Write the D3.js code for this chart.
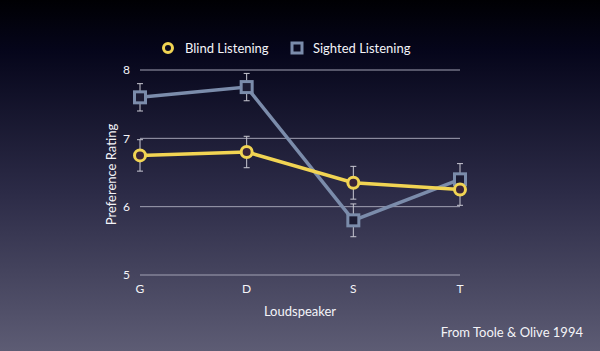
<!DOCTYPE html>
<html>
<head>
<meta charset="utf-8">
<script src="https://cdn.jsdelivr.net/npm/d3@7"></script>
<style>
  html, body { margin: 0; padding: 0; background: #000; }
  svg { display: block; }
  text { font-family: "Lato", "Open Sans", sans-serif; fill: #f4f4f8; }
</style>
</head>
<body>
<div id="chart"></div>
<script>
const speakers = ["G", "D", "S", "T"];
const blindValues = [6.75, 6.8, 6.35, 6.25];
const blindErrors = [0.23, 0.23, 0.24, 0.23];
const sightedValues = [7.6, 7.75, 5.8, 6.4];
const sightedErrors = [0.2, 0.2, 0.24, 0.23];
const yTicks = [5, 6, 7, 8];

const width = 600, height = 351;
const margin = {top: 70, right: 140, bottom: 76, left: 140};

const svg = d3.select("#chart").append("svg")
    .attr("width", width)
    .attr("height", height);

// background gradient
const grad = svg.append("defs").append("linearGradient")
    .attr("id", "bg").attr("x1", 0).attr("y1", 0).attr("x2", 0).attr("y2", 1);
grad.append("stop").attr("offset", "0%").attr("stop-color", "#000003");
grad.append("stop").attr("offset", "14%").attr("stop-color", "#05051a");
grad.append("stop").attr("offset", "55%").attr("stop-color", "#2c2b47");
grad.append("stop").attr("offset", "100%").attr("stop-color", "#5d5c74");
svg.append("rect").attr("width", width).attr("height", height).attr("fill", "url(#bg)");

const x = d3.scalePoint()
    .domain(speakers)
    .range([margin.left, width - margin.right]);

const y = d3.scaleLinear()
    .domain([5, 8])
    .range([height - margin.bottom, margin.top]);

// gridlines
svg.append("g")
    .selectAll("line")
    .data(yTicks)
    .join("line")
    .attr("x1", margin.left)
    .attr("x2", width - margin.right)
    .attr("y1", d => y(d))
    .attr("y2", d => y(d))
    .attr("stroke", "#a2a2b4")
    .attr("stroke-width", 1);

// y tick labels
svg.append("g")
    .selectAll("text")
    .data(yTicks)
    .join("text")
    .attr("x", margin.left - 10)
    .attr("y", d => y(d))
    .attr("dy", "0.35em")
    .attr("text-anchor", "end")
    .attr("font-size", 12)
    .text(d => d);

// x tick labels
svg.append("g")
    .selectAll("text")
    .data(speakers)
    .join("text")
    .attr("x", d => x(d))
    .attr("y", y(5) + 18)
    .attr("text-anchor", "middle")
    .attr("font-size", 12)
    .text(d => d);

// axis labels
svg.append("text")
    .attr("x", (margin.left + width - margin.right) / 2)
    .attr("y", 316)
    .attr("text-anchor", "middle")
    .attr("font-size", 13)
    .text("Loudspeaker");

svg.append("text")
    .attr("transform", `translate(116,${(y(5) + y(8)) / 2 + 2}) rotate(-90)`)
    .attr("text-anchor", "middle")
    .attr("font-size", 13)
    .text("Preference Rating");

svg.append("text")
    .attr("x", 583)
    .attr("y", 337)
    .attr("text-anchor", "end")
    .attr("font-size", 13)
    .text("From Toole & Olive 1994");

const blind = speakers.map((s, i) => ({s, v: blindValues[i], e: blindErrors[i]}));
const sighted = speakers.map((s, i) => ({s, v: sightedValues[i], e: sightedErrors[i]}));

const drawErrors = (data) => {
    const g = svg.append("g").attr("stroke", "#c8c8d2").attr("stroke-width", 1);
    g.selectAll("line.v").data(data).join("line")
        .attr("x1", d => x(d.s)).attr("x2", d => x(d.s))
        .attr("y1", d => y(d.v + d.e)).attr("y2", d => y(d.v - d.e));
    g.selectAll("line.t").data(data).join("line")
        .attr("x1", d => x(d.s) - 3).attr("x2", d => x(d.s) + 3)
        .attr("y1", d => y(d.v + d.e)).attr("y2", d => y(d.v + d.e));
    g.selectAll("line.b").data(data).join("line")
        .attr("x1", d => x(d.s) - 3).attr("x2", d => x(d.s) + 3)
        .attr("y1", d => y(d.v - d.e)).attr("y2", d => y(d.v - d.e));
};
drawErrors(sighted);
drawErrors(blind);

const line = d3.line().x(d => x(d.s)).y(d => y(d.v));

const blue = "#7b8cab";
const yellow = "#f1d453";

// sighted series
svg.append("path").datum(sighted)
    .attr("fill", "none").attr("stroke", blue).attr("stroke-width", 3.5)
    .attr("d", line);
svg.append("g").selectAll("rect").data(sighted).join("rect")
    .attr("x", d => x(d.s) - 5.5).attr("y", d => y(d.v) - 5.5)
    .attr("width", 11).attr("height", 11)
    .attr("fill", "#1c1c34").attr("stroke", blue).attr("stroke-width", 3);

// blind series
svg.append("path").datum(blind)
    .attr("fill", "none").attr("stroke", yellow).attr("stroke-width", 3.5)
    .attr("d", line);
svg.append("g").selectAll("circle").data(blind).join("circle")
    .attr("cx", d => x(d.s)).attr("cy", d => y(d.v))
    .attr("r", 5.5)
    .attr("fill", "#3a2438").attr("stroke", yellow).attr("stroke-width", 3);

// legend
const legend = svg.append("g");
legend.append("circle")
    .attr("cx", 168).attr("cy", 48).attr("r", 4.5)
    .attr("fill", "#0a0a20").attr("stroke", yellow).attr("stroke-width", 3);
legend.append("text")
    .attr("x", 185).attr("y", 48).attr("dy", "0.35em")
    .attr("font-size", 13).text("Blind Listening");
legend.append("rect")
    .attr("x", 292).attr("y", 43).attr("width", 10).attr("height", 10)
    .attr("fill", "#0a0a20").attr("stroke", blue).attr("stroke-width", 3);
legend.append("text")
    .attr("x", 313).attr("y", 48).attr("dy", "0.35em")
    .attr("font-size", 13).text("Sighted Listening");
</script>
</body>
</html>
